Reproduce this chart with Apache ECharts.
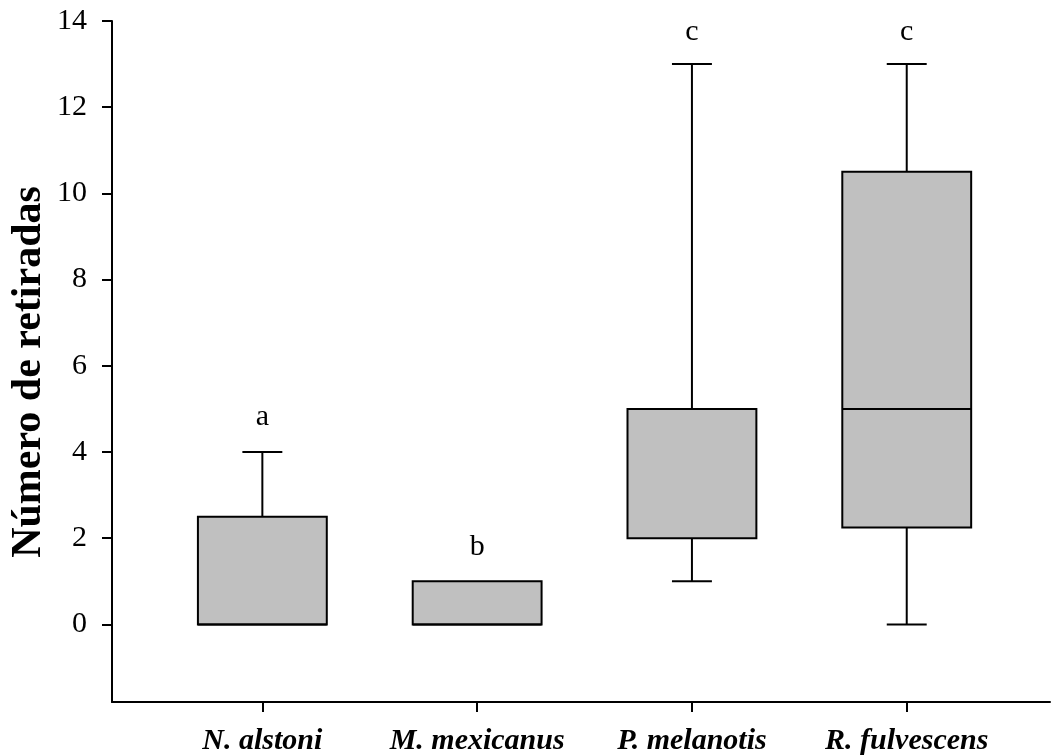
<!DOCTYPE html>
<html>
<head>
<meta charset="utf-8">
<script src="https://cdn.jsdelivr.net/npm/echarts@6/dist/echarts.min.js"></script>
<style>html,body{margin:0;padding:0;background:#fff;}#chart{width:1052px;height:756px;}</style>
</head>
<body>
<div id="chart"></div>
<script>
const categories = ['N. alstoni', 'M. mexicanus', 'P. melanotis', 'R. fulvescens'];
const positions = [1, 2, 3, 4];
const minVals = [0, 0, 1, 0];
const q1Vals = [0, 0, 2, 2.25];
const medianVals = [0, 0, 5, 5];
const q3Vals = [2.5, 1, 5, 10.5];
const maxVals = [4, 1, 13, 13];
const letters = ['a', 'b', 'c', 'c'];
const letterY = [4.8, 1.8, 13.75, 13.75];
const yTicks = [0, 2, 4, 6, 8, 10, 12, 14];
const yTitle = 'Número de retiradas';

const FONT = '"Liberation Serif", "Times New Roman", serif';
const boxWidth = 0.6;
const capWidth = 0.186;

const boxData = positions.map((p, i) => [p, minVals[i], q1Vals[i], medianVals[i], q3Vals[i], maxVals[i]]);
const letterData = positions.map((p, i) => [p, letterY[i], letters[i]]);

const chart = echarts.init(document.getElementById('chart'));
const lineStyle = { stroke: '#000', lineWidth: 2 };

chart.setOption({
  animation: false,
  backgroundColor: '#fff',
  grid: { left: 112, top: 21, right: 2, bottom: 54, containLabel: false, outerBoundsMode: 'none' },
  graphic: [{
    type: 'text', x: 29, y: 372, rotation: Math.PI / 2,
    style: { text: yTitle, font: 'bold 42px ' + FONT, fill: '#000', textAlign: 'center', textVerticalAlign: 'middle' }
  }],
  xAxis: {
    type: 'value', min: 0.3, max: 4.667,
    axisLine: { onZero: false, lineStyle: { color: '#000', width: 2 } },
    splitLine: { show: false },
    axisTick: { customValues: positions, length: 10, lineStyle: { color: '#000', width: 2 } },
    axisLabel: {
      customValues: positions,
      formatter: v => categories[positions.indexOf(v)],
      fontFamily: FONT, fontStyle: 'italic', fontWeight: 'bold', fontSize: 30, color: '#000', margin: 24
    }
  },
  yAxis: {
    type: 'value', min: -1.8, max: 14,
    axisLine: { show: true, onZero: false, lineStyle: { color: '#000', width: 2 } },
    splitLine: { show: false },
    axisTick: { show: true, customValues: yTicks, length: 10, lineStyle: { color: '#000', width: 2 } },
    axisLabel: { customValues: yTicks, fontFamily: FONT, fontSize: 30, color: '#000', margin: 25 }
  },
  series: [
    {
      type: 'custom',
      data: boxData,
      encode: { x: 0, y: [1, 2, 3, 4, 5] },
      renderItem: function (params, api) {
        const x = api.value(0);
        const pMin = api.coord([x, api.value(1)]);
        const pQ1 = api.coord([x, api.value(2)]);
        const pMed = api.coord([x, api.value(3)]);
        const pQ3 = api.coord([x, api.value(4)]);
        const pMax = api.coord([x, api.value(5)]);
        const halfW = api.size([boxWidth, 0])[0] / 2;
        const capHalf = api.size([capWidth, 0])[0] / 2;
        const cx = pMed[0];
        const children = [];
        if (api.value(5) > api.value(4)) {
          children.push({ type: 'line', shape: { x1: cx, y1: pQ3[1], x2: cx, y2: pMax[1] }, style: lineStyle });
          children.push({ type: 'line', shape: { x1: cx - capHalf, y1: pMax[1], x2: cx + capHalf, y2: pMax[1] }, style: lineStyle });
        }
        if (api.value(1) < api.value(2)) {
          children.push({ type: 'line', shape: { x1: cx, y1: pQ1[1], x2: cx, y2: pMin[1] }, style: lineStyle });
          children.push({ type: 'line', shape: { x1: cx - capHalf, y1: pMin[1], x2: cx + capHalf, y2: pMin[1] }, style: lineStyle });
        }
        children.push({ type: 'rect', shape: { x: cx - halfW, y: pQ3[1], width: 2 * halfW, height: pQ1[1] - pQ3[1] },
          style: { fill: '#c0c0c0', stroke: '#000', lineWidth: 2 } });
        children.push({ type: 'line', shape: { x1: cx - halfW, y1: pMed[1], x2: cx + halfW, y2: pMed[1] }, style: lineStyle });
        return { type: 'group', children: children };
      }
    },
    {
      type: 'custom',
      data: letterData,
      encode: { x: 0, y: 1 },
      renderItem: function (params, api) {
        const p = api.coord([api.value(0), api.value(1)]);
        return { type: 'text', x: p[0], y: p[1],
          style: { text: letterData[params.dataIndex][2], textAlign: 'center', textVerticalAlign: 'middle',
            font: '30px ' + FONT, fill: '#000' } };
      }
    }
  ]
});
</script>
</body>
</html>
